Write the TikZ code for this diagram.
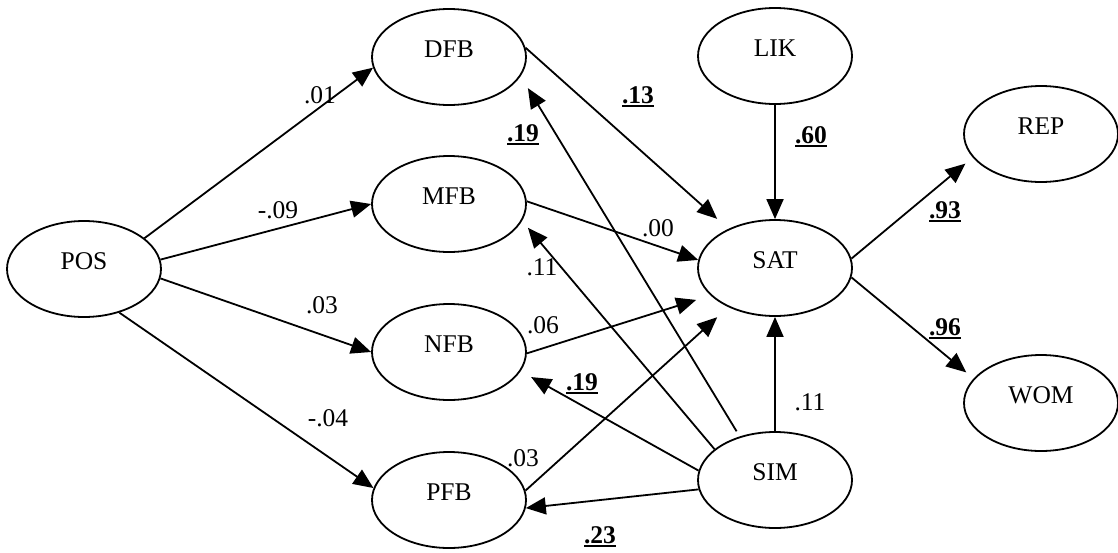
\documentclass[tikz,border=0pt]{standalone}
\usepackage{fontspec}
\setmainfont{Liberation Serif}
\usetikzlibrary{arrows.meta,shapes.geometric}
\newcommand{\ulbf}[1]{\setbox0\hbox{\bfseries #1}\rlap{\rule[-3.8pt]{\wd0}{2.1pt}}\box0}
\begin{document}
\begin{tikzpicture}[x=1pt,y=-1pt,
  lat/.style={ellipse,draw,line width=1.8pt,minimum width=154pt,minimum height=96pt,
    inner sep=0pt,text height=17pt,text depth=16pt,font=\fontsize{25.5}{30}\selectfont},
  conn/.style={line width=1.8pt,-{Triangle[length=20pt,width=17pt]}},
  coef/.style={font=\fontsize{25.5}{30}\selectfont,inner sep=0pt,anchor=base}]
\useasboundingbox (0,0) rectangle (1118,552);
\node[lat] (POS) at (84,269) {POS};
\node[lat] (DFB) at (449,57) {DFB};
\node[lat] (MFB) at (449,204) {MFB};
\node[lat] (NFB) at (449,352) {NFB};
\node[lat] (PFB) at (449,500) {PFB};
\node[lat] (LIK) at (775,56) {LIK};
\node[lat] (SAT) at (775,268) {SAT};
\node[lat] (SIM) at (775,480) {SIM};
\node[lat] (REP) at (1041,134) {REP};
\node[lat] (WOM) at (1041,403) {WOM};
\draw[conn] (POS.27) -- (DFB.188);
\draw[conn] (POS.7) -- (MFB.180);
\draw[conn] (POS.-7) -- (NFB.180);
\draw[conn] (POS.-51) -- (PFB.171);
\draw[conn,shorten >=15pt] (DFB.7) -- (SAT.140);
\draw[conn] (LIK.south) -- (SAT.north);
\draw[conn] (MFB.2) -- (SAT.174);
\draw[conn,shorten >=15pt] (NFB.-1) -- (SAT.203);
\draw[conn,shorten >=15pt] (PFB.7) -- (SAT.220);
\draw[conn] (SIM.north) -- (SAT.south);
\draw[conn,shorten <=6pt,shorten >=14pt] (SIM.129) -- (DFB.-15);
\draw[conn,shorten >=9pt] (SIM.153) -- (MFB.-13);
\draw[conn,shorten >=12pt] (SIM.173) -- (NFB.-15);
\draw[conn] (SIM.187) -- (PFB.-6);
\draw[conn,shorten >=9.5pt] (SAT.7) -- (REP.199);
\draw[conn,shorten >=9.5pt] (SAT.-7) -- (WOM.160);
\node[coef] (c1) at (320,103.5) {.01};
\node[coef] (c2) at (278,218.5) {-.09};
\node[coef] (c3) at (322,313.5) {.03};
\node[coef] (c4) at (328,426.5) {-.04};
\node[coef] (c5) at (638,103) {\ulbf{.13}};
\node[coef] (c6) at (523,141) {\ulbf{.19}};
\node[coef] (c7) at (811,143) {\ulbf{.60}};
\node[coef] (c8) at (658,236) {.00};
\node[coef] (c9) at (542,275) {.11};
\node[coef] (c10) at (543,333) {.06};
\node[coef] (c11) at (582,390) {\ulbf{.19}};
\node[coef] (c12) at (523,466) {.03};
\node[coef] (c13) at (600,543) {\ulbf{.23}};
\node[coef] (c14) at (810,410) {.11};
\node[coef] (c15) at (945,218) {\ulbf{.93}};
\node[coef] (c16) at (945,335) {\ulbf{.96}};
\end{tikzpicture}
\end{document}
